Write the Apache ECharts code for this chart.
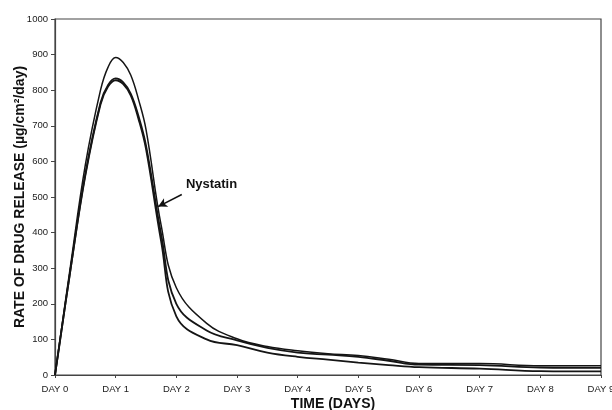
<!DOCTYPE html>
<html>
<head>
<meta charset="utf-8">
<script src="https://cdn.jsdelivr.net/npm/echarts@6/dist/echarts.min.js"></script>
<style>
html,body{margin:0;padding:0;background:#fff;}
#chart{width:612px;height:410px;}
</style>
</head>
<body>
<div id="chart"></div>
<script>
// Days (x) and release rates (µg/cm²/day)
const days = [0, 0.25, 0.5, 0.75, 0.875, 1, 1.125, 1.25, 1.375, 1.5, 1.75, 2, 2.5, 3, 3.5, 4, 4.5, 5, 5.5, 6, 7, 8, 9];
const seriesA = [0, 300, 590, 800, 865, 892, 878, 842, 775, 690, 420, 245, 145, 102, 80, 68, 60, 55, 44, 32, 32, 26, 26];
const seriesB = [0, 290, 565, 765, 815, 833, 822, 790, 728, 645, 395, 200, 125, 97, 76, 63, 57, 51, 40, 29, 28, 21, 20];
const seriesC = [0, 290, 560, 760, 810, 828, 817, 785, 720, 635, 375, 165, 100, 84, 63, 51, 43, 35, 28, 22, 18, 11, 10];
const xTicks = [0, 1, 2, 3, 4, 5, 6, 7, 8, 9];
const yTicks = [0, 100, 200, 300, 400, 500, 600, 700, 800, 900, 1000];
const annotation = { text: 'Nystatin', tail: [2.09, 507], head: [1.70, 473], labelAt: [2.58, 536] };

function pairs(vals) { return days.map((d, i) => [d, vals[i]]); }

const FONT = 'Liberation Sans, Arial, sans-serif';
const chart = echarts.init(document.getElementById('chart'), null, { renderer: 'canvas' });
const lineStyleBase = { color: '#151515', width: 1.8 };
chart.setOption({
  animation: false,
  backgroundColor: '#ffffff',
  grid: { left: 55, right: 11, top: 19, bottom: 35, show: true, borderColor: '#444', borderWidth: 1.2,
          containLabel: false, outerBoundsMode: 'none' },
  xAxis: {
    type: 'value', min: xTicks[0], max: xTicks[xTicks.length - 1], interval: 1,
    name: 'TIME (DAYS)', nameLocation: 'middle', nameGap: 22, nameMoveOverlap: false,
    nameTextStyle: { fontFamily: FONT, fontWeight: 'bold', fontSize: 14, color: '#111', padding: [0, 0, 0, 10] },
    axisLine: { lineStyle: { color: '#444', width: 1.2 } },
    axisTick: { show: true, length: 3, lineStyle: { color: '#444' } },
    axisLabel: { formatter: v => 'DAY ' + v, fontFamily: FONT, fontSize: 9.5, color: '#1a1a1a', margin: 9 },
    splitLine: { show: false }
  },
  yAxis: {
    type: 'value', min: yTicks[0], max: yTicks[yTicks.length - 1], interval: 100,
    name: 'RATE OF DRUG RELEASE (µg/cm²/day)', nameLocation: 'middle', nameGap: 28, nameRotate: 90, nameMoveOverlap: false,
    nameTextStyle: { fontFamily: FONT, fontWeight: 'bold', fontSize: 14, color: '#111' },
    axisLine: { show: true, lineStyle: { color: '#444', width: 1.2 } },
    axisTick: { show: true, length: 4, lineStyle: { color: '#444' } },
    axisLabel: { formatter: v => String(v), fontFamily: FONT, fontSize: 9.5, color: '#1a1a1a', margin: 7 },
    splitLine: { show: false }
  },
  series: [
    { type: 'line', data: pairs(seriesA), smooth: 0.4, symbol: 'none', lineStyle: Object.assign({}, lineStyleBase, { width: 1.5 }),
      markLine: {
        silent: true, symbol: ['none', 'arrow'], symbolSize: [7, 9],
        lineStyle: { color: '#111', width: 1.5, type: 'solid' }, label: { show: false },
        data: [[{ coord: annotation.tail }, { coord: annotation.head }]]
      },
      markPoint: {
        symbol: 'rect', symbolSize: 1, silent: true, itemStyle: { color: 'rgba(0,0,0,0)' },
        data: [{ coord: annotation.labelAt, label: { show: true, position: 'inside', formatter: annotation.text,
                 fontFamily: FONT, fontWeight: 'bold', fontSize: 13, color: '#111' } }]
      }
    },
    { type: 'line', data: pairs(seriesB), smooth: 0.4, symbol: 'none', lineStyle: lineStyleBase },
    { type: 'line', data: pairs(seriesC), smooth: 0.4, symbol: 'none', lineStyle: lineStyleBase }
  ]
});
</script>
</body>
</html>
